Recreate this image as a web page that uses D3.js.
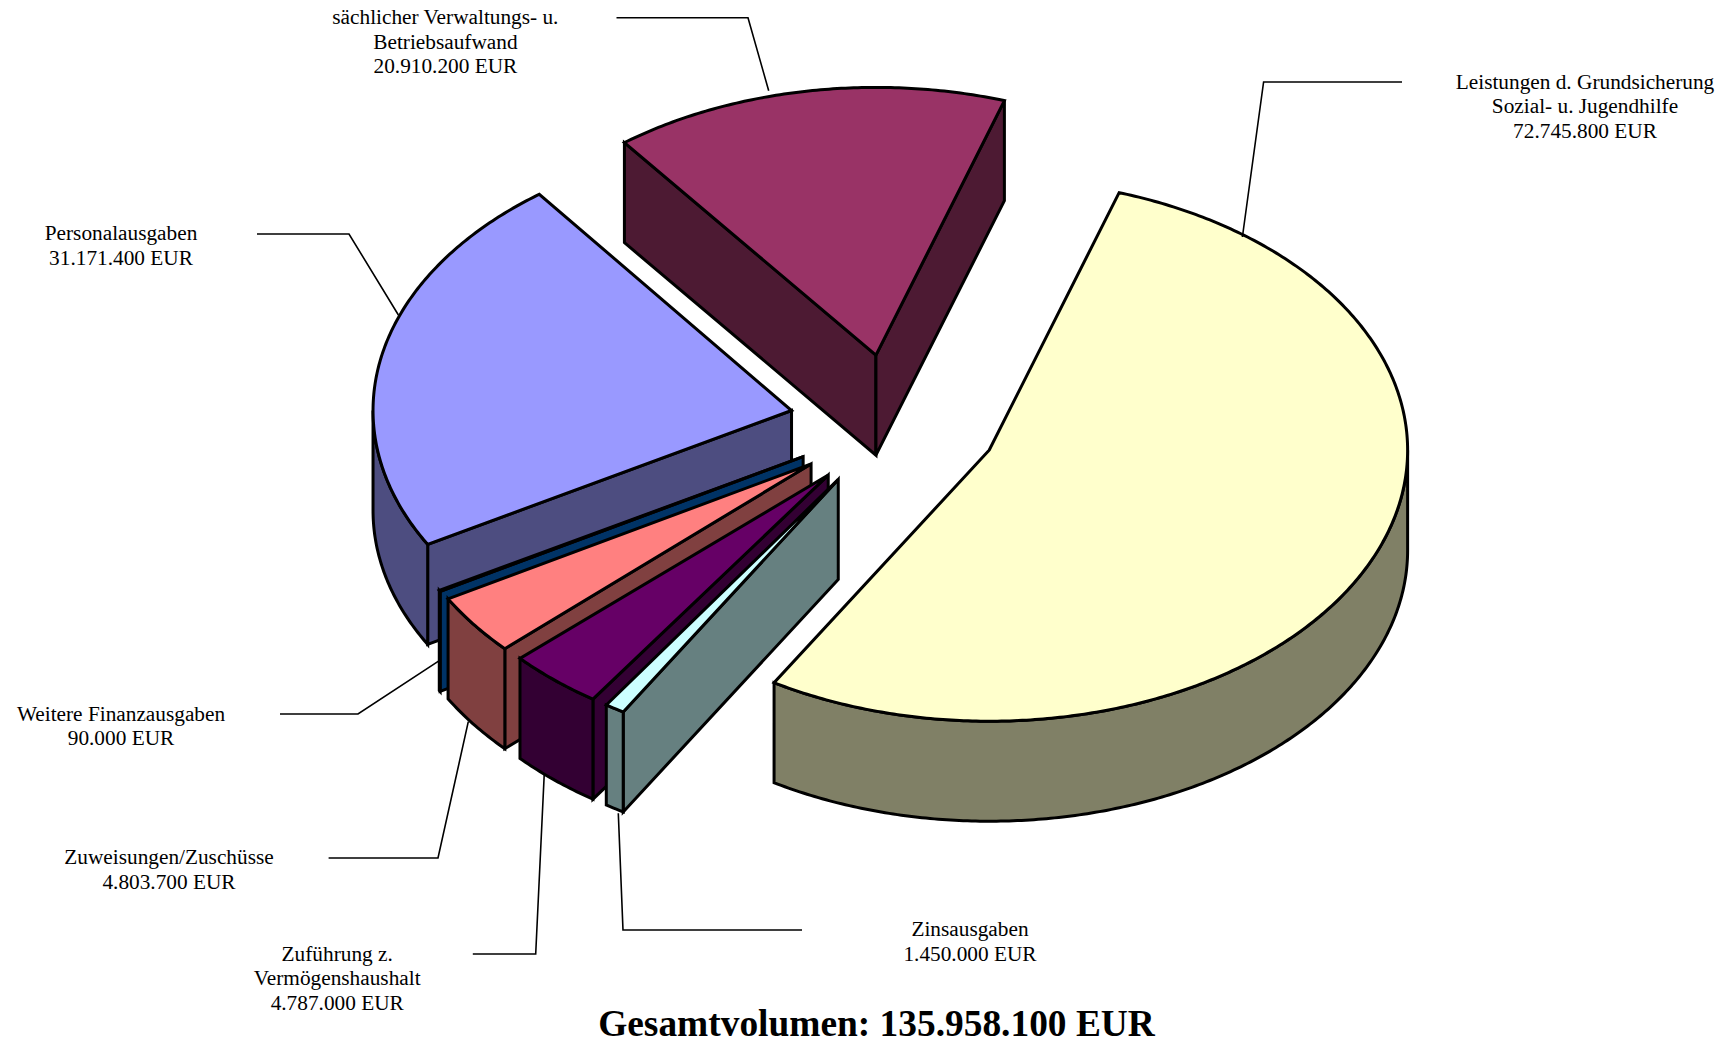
<!DOCTYPE html>
<html lang="de">
<head>
<meta charset="utf-8">
<title>Gesamtvolumen</title>
<script src="https://cdn.jsdelivr.net/npm/d3@7/dist/d3.min.js"></script>
<style>
html,body{margin:0;padding:0;background:#fff;overflow:hidden}
svg{display:block}
text{font-family:"Liberation Serif","Times New Roman",serif;fill:#000}
</style>
</head>
<body>
<svg id="chart" width="1728" height="1042"></svg>
<script>
// ---- data ----
const categories = [
  ["Leistungen d. Grundsicherung", "Sozial- u. Jugendhilfe"],
  ["Zinsausgaben"],
  ["Zuführung z.", "Vermögenshaushalt"],
  ["Zuweisungen/Zuschüsse"],
  ["Weitere Finanzausgaben"],
  ["Personalausgaben"],
  ["sächlicher Verwaltungs- u.", "Betriebsaufwand"]
];
const values = [72745800, 1450000, 4787000, 4803700, 90000, 31171400, 20910200];
const topColors = ["#FFFFCC", "#CCFFFF", "#660066", "#FF8080", "#0066CC", "#9999FF", "#993366"];
const sideColors = ["#808066", "#668080", "#330033", "#804040", "#003366", "#4D4D80", "#4D1A33"];
const titlePrefix = "Gesamtvolumen: ";
const unit = " EUR";

// ---- layout ----
const cx = 894, cy = 422, rx = 418.5, ry = 271, depth = 100, explode = 0.25;
const firstAngle = 18.3 * Math.PI / 180;
const paintOrder = [6, 5, 4, 3, 2, 1, 0];
// small per-slice drawing corrections (renderer rounding in the original)
const nudgeX = [0, 1, 3, 1.5, 0, 0, -1];
const nudgeY = [0, 0.5, 2, 2, 1, 2.2, 0];
const radiusScale = [1, 1, 1, 1, 1, 1, 0.988];
const startTrimDeg = [-0.2, 0, -0.55, -0.4, 0, 0, -0.4];
const endTrimDeg = [0, -1.1, 0, 0, 0, 0, -0.2];
const labelX = [1585, 970, 337.2, 169, 121, 121, 445.4];
const labelY = [88.5, 936, 960.5, 864, 720.5, 240, 24];
const lineStep = 24.6;
const leaders = [
  [[1402, 82], [1263.6, 82], [1242.4, 237]],
  [[802, 930], [623, 930], [618.3, 813.3]],
  [[472.8, 954], [535.7, 954], [544.2, 775]],
  [[328.6, 858], [438, 858], [468.3, 721.7]],
  [[280, 714], [358, 714], [439.3, 660.7]],
  [[257, 234], [349, 234], [398.4, 315]],
  [[616.5, 17.7], [748, 17.7], [768.7, 90.7]]
];

const svg = d3.select("#chart");
const de = d3.formatLocale({decimal: ",", thousands: ".", grouping: [3], currency: ["", ""]});
const money = v => de.format(",d")(v) + unit;
const deg = Math.PI / 180;

const pie = d3.pie().sort(null).startAngle(firstAngle).endAngle(firstAngle + 2 * Math.PI);
const arcs = pie(values);
const xUnit = d3.scaleLinear().domain([-1, 1]).range([-rx, rx]);
const yUnit = d3.scaleLinear().domain([-1, 1]).range([-ry, ry]);
const line = d3.line();

// screen position at a pie angle (clockwise from the top) on a slice
function pt(arc, angle, r, drop) {
  const mid = (arc.startAngle + arc.endAngle) / 2;
  const ox = cx + nudgeX[arc.index] + xUnit(explode * Math.sin(mid));
  const oy = cy + nudgeY[arc.index] - yUnit(explode * Math.cos(mid));
  const k = r * radiusScale[arc.index];
  return [ox + xUnit(k * Math.sin(angle)), oy - yUnit(k * Math.cos(angle)) + drop];
}
function sampleAngles(a0, a1) {
  const n = Math.max(2, Math.ceil((a1 - a0) / 0.01));
  return d3.range(n + 1).map(i => a0 + (a1 - a0) * i / n);
}

const slices = svg.append("g").attr("stroke", "#000").attr("stroke-width", 3)
  .attr("stroke-linejoin", "miter").attr("stroke-miterlimit", 4);

paintOrder.forEach(i => {
  const a = arcs[i];
  const a0 = a.startAngle + startTrimDeg[i] * deg;
  const a1 = a.endAngle + endTrimDeg[i] * deg;
  const g = slices.append("g");
  const side = sideColors[i], top = topColors[i];

  // radial walls facing the viewer
  const wall = ang => [pt(a, 0, 0, 0), pt(a, ang, 1, 0), pt(a, ang, 1, depth), pt(a, 0, 0, depth)];
  if (Math.sin(a0) < 0)
    g.append("path").attr("fill", side).attr("d", line(wall(a0)) + "Z");
  if (Math.sin(a1) > 0)
    g.append("path").attr("fill", side).attr("d", line(wall(a1)) + "Z");

  // outer rim wall: parts of the arc on the front half
  const fronts = [[Math.PI / 2, 3 * Math.PI / 2], [Math.PI / 2 + 2 * Math.PI, 3 * Math.PI / 2 + 2 * Math.PI]];
  fronts.forEach(([f0, f1]) => {
    const s = Math.max(a0, f0), e = Math.min(a1, f1);
    if (e > s) {
      const angs = sampleAngles(s, e);
      const upper = angs.map(t => pt(a, t, 1, 0));
      const lower = angs.slice().reverse().map(t => pt(a, t, 1, depth));
      g.append("path").attr("fill", side).attr("d", line(upper.concat(lower)) + "Z");
    }
  });

  // top face
  const rim = sampleAngles(a0, a1).map(t => pt(a, t, 1, 0));
  g.append("path").attr("fill", top).attr("d", line([pt(a, 0, 0, 0)].concat(rim)) + "Z");
});

// leader lines
svg.append("g").attr("fill", "none").attr("stroke", "#000").attr("stroke-width", 1.6)
  .selectAll("path").data(leaders).join("path").attr("d", d => line(d));

// labels
const labels = svg.append("g").attr("font-size", 21.3).attr("text-anchor", "middle");
categories.forEach((lines, i) => {
  lines.concat([money(values[i])]).forEach((t, j) => {
    labels.append("text").attr("x", labelX[i]).attr("y", labelY[i] + j * lineStep).text(t);
  });
});

// title
svg.append("text").attr("x", 876.5).attr("y", 1035.5).attr("text-anchor", "middle")
  .attr("font-size", 37.4).attr("font-weight", "bold")
  .text(titlePrefix + money(d3.sum(values)));
</script>
</body>
</html>
